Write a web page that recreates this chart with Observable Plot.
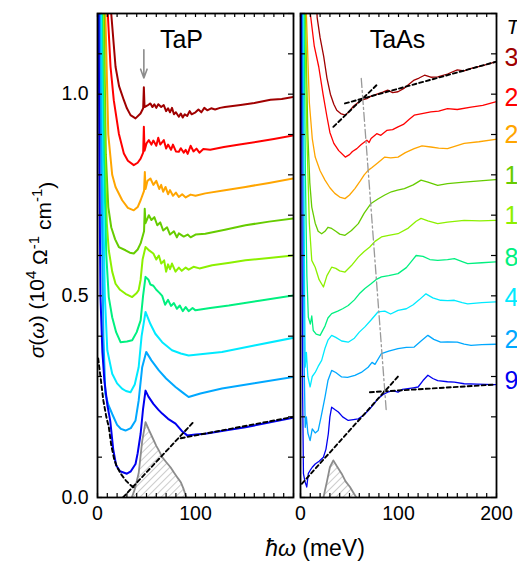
<!DOCTYPE html>
<html><head><meta charset="utf-8">
<script src="https://cdn.jsdelivr.net/npm/d3@7"></script>
<script src="https://cdn.jsdelivr.net/npm/@observablehq/plot@0.6"></script>
<style>body{margin:0;background:#fff;}</style>
</head><body><div id="chart"></div>
<script>
// ---------- data ----------
const panels = ["TaP", "TaAs"];
const temps = ["300", "250", "200", "150", "125", "80", "40", "20", "9"];
const colors = ["#a00000", "#ff0000", "#ffa500", "#66cc00", "#8cf000", "#00f080", "#00eaff", "#00a8ff", "#0000f0"];

// TaP  [meV, sigma]
const tap300 = [[11,1.35],[14,1.2],[18.4,1.068],[22,1.02],[26.9,0.985],[30,0.965],[33.7,0.948],[38.8,0.94],[43.9,0.952],[46.6,0.965],[47.3,1.017],[48,0.968],[51,0.972],[54,0.977],[56,0.968],[58,0.975],[60,0.966],[62,0.975],[65,0.968],[67.6,0.973],[70,0.958],[72,0.965],[74,0.955],[76,0.966],[78,0.95],[80,0.955],[83,0.944],[85,0.952],[87,0.942],[89,0.95],[91.5,0.946],[94,0.958],[96,0.95],[100,0.955],[103,0.962],[106,0.955],[109,0.966],[112,0.96],[116,0.965],[120,0.962],[125,0.966],[130,0.968],[146,0.973],[160,0.978],[176.5,0.986],[188,0.988],[200,0.993]];
const tap250 = [[8,1.4],[10.5,1.2],[13.3,1.068],[16.6,0.985],[21.8,0.902],[26.9,0.853],[31,0.835],[37,0.824],[41,0.83],[44,0.84],[46.6,0.855],[47.3,0.919],[48,0.86],[50,0.878],[52.4,0.886],[55,0.875],[57,0.885],[60,0.872],[62,0.892],[64,0.875],[67.7,0.886],[70,0.865],[72,0.875],[75,0.862],[77,0.875],[80,0.858],[83,0.857],[85,0.866],[88,0.855],[90,0.862],[92,0.852],[95,0.872],[98,0.858],[101,0.865],[104,0.855],[108,0.864],[115,0.862],[129,0.869],[145,0.875],[163,0.882],[180,0.889],[200,0.898]];
const tap200 = [[6,1.4],[8,1.2],[11,0.9],[15,0.8],[18.4,0.77],[25.2,0.737],[31,0.718],[37,0.712],[41,0.72],[44,0.737],[47.5,0.76],[48.3,0.807],[49,0.765],[51,0.785],[54,0.791],[57,0.775],[60,0.785],[63,0.765],[65,0.775],[67,0.758],[69.4,0.77],[72,0.752],[74,0.762],[77,0.748],[80,0.756],[83,0.745],[86.4,0.752],[90,0.744],[95,0.751],[100,0.748],[110,0.754],[130,0.762],[151,0.77],[175,0.78],[200,0.791]];
const tap150 = [[4.5,1.4],[6.5,1.2],[8.5,0.85],[11,0.72],[14,0.67],[18,0.64],[21.8,0.621],[28.6,0.613],[33,0.607],[37,0.605],[41,0.615],[44,0.63],[47.5,0.66],[48.2,0.716],[49,0.68],[52.4,0.70],[55,0.688],[58,0.695],[61,0.675],[64,0.682],[67,0.662],[71,0.67],[74,0.652],[78,0.66],[81,0.645],[83,0.655],[88,0.647],[92,0.652],[95,0.645],[100,0.652],[110,0.654],[130,0.664],[151,0.675],[175,0.684],[200,0.692]];
const tap125 = [[3.8,1.4],[5.5,1.2],[7.5,0.85],[9.5,0.68],[11.5,0.613],[15,0.56],[18.4,0.53],[23,0.515],[28.6,0.505],[35.4,0.497],[40,0.507],[42,0.514],[44,0.54],[46,0.59],[49,0.621],[53,0.612],[57,0.605],[60,0.59],[62.6,0.6],[65,0.58],[68,0.588],[70,0.56],[72,0.578],[74,0.566],[76,0.58],[79.6,0.56],[83,0.57],[86,0.562],[90,0.57],[93,0.565],[98,0.572],[104,0.568],[117,0.576],[135,0.582],[151,0.588],[175,0.594],[200,0.600]];
const tap80 = [[3,1.4],[4.5,1.2],[6.5,0.85],[9,0.6],[11.5,0.497],[15,0.447],[19,0.41],[23.5,0.385],[30,0.387],[35.4,0.39],[40,0.41],[44,0.439],[46.5,0.5],[49,0.547],[52,0.54],[54,0.528],[57,0.525],[60,0.515],[63,0.508],[66,0.5],[69,0.478],[72,0.49],[75,0.475],[78,0.482],[81,0.468],[84,0.476],[87,0.462],[90,0.472],[93,0.462],[97,0.47],[100,0.464],[115,0.47],[134,0.476],[165,0.488],[200,0.501]];
const tap40 = [[2.3,1.4],[3.5,1.2],[5,0.85],[7.5,0.5],[10,0.365],[15,0.307],[20,0.283],[25,0.27],[29,0.264],[33.7,0.261],[38,0.28],[42,0.323],[45,0.4],[49,0.46],[54,0.43],[59,0.406],[66,0.385],[76,0.365],[85,0.357],[93,0.352],[105,0.355],[127,0.361],[160,0.377],[200,0.396]];
const tap20 = [[1.6,1.4],[2.5,1.2],[4,0.8],[6,0.4],[8,0.257],[11,0.23],[15,0.207],[20,0.18],[24,0.17],[28.6,0.166],[34,0.172],[38.8,0.191],[42,0.24],[45.6,0.323],[49.7,0.361],[55,0.34],[62.6,0.315],[70,0.295],[79.6,0.274],[87,0.26],[93,0.249],[105,0.258],[127,0.27],[160,0.283],[200,0.299]];
const tap9 = [[0.6,1.4],[1.2,1.2],[2,0.8],[3,0.5],[5,0.36],[7,0.29],[10,0.23],[13,0.19],[16,0.12],[19,0.08],[23,0.065],[30,0.059],[34,0.065],[38.8,0.083],[41,0.11],[44,0.158],[46.5,0.22],[49,0.265],[52,0.25],[57,0.232],[62,0.218],[66,0.208],[72,0.195],[79.6,0.183],[86,0.165],[91.5,0.154],[100,0.156],[110,0.158],[130,0.166],[151,0.174],[175,0.186],[200,0.198]];

// TaAs [meV, sigma]
const taas300 = [[13,1.4],[17,1.19],[20,1.14],[23.7,1.093],[27,1.04],[30.5,1.0],[34,0.975],[37,0.96],[41,0.952],[45.7,0.948],[50,0.958],[54,0.97],[57.5,0.977],[62,0.985],[67.7,0.989],[72,0.995],[78,1.0],[84,1.005],[89,1.01],[94,1.004],[99.5,1.006],[106,1.015],[111,1.025],[116,1.035],[121,1.04],[126.6,1.047],[133,1.042],[140,1.043],[150,1.05],[160,1.06],[167,1.058],[174,1.064],[185,1.07],[199,1.08]];
const taas250 = [[7.5,1.4],[10,1.2],[14,1.12],[18.6,1.068],[23,1.0],[27,0.944],[30,0.905],[34,0.878],[39,0.86],[45.7,0.844],[50,0.85],[53,0.858],[57.5,0.865],[62,0.875],[67.7,0.886],[70,0.88],[72,0.89],[77.8,0.902],[82,0.898],[88,0.91],[94,0.912],[99.5,0.919],[105,0.925],[111,0.938],[116,0.948],[124,0.952],[133,0.956],[141,0.958],[150,0.964],[160,0.962],[174,0.968],[186,0.972],[199,0.981]];
const taas200 = [[4.5,1.4],[6,1.2],[9,0.98],[12,0.89],[15,0.844],[20,0.81],[25,0.787],[30,0.768],[35,0.754],[40,0.745],[45.4,0.741],[50,0.75],[55.5,0.766],[61,0.785],[65,0.8],[69,0.811],[73,0.818],[79,0.83],[86,0.844],[92,0.842],[99.5,0.844],[107,0.855],[116,0.865],[124,0.872],[133,0.869],[141,0.866],[150,0.865],[167,0.878],[182,0.882],[199,0.888]];
const taas150 = [[3.5,1.4],[5,1.2],[7.5,0.9],[9.5,0.78],[11.5,0.72],[15,0.68],[18,0.66],[21.6,0.654],[25,0.66],[28,0.67],[31.8,0.667],[36,0.66],[40,0.653],[45.4,0.65],[52,0.662],[59,0.679],[65,0.705],[72,0.729],[79,0.74],[86,0.75],[92.7,0.758],[99,0.762],[106,0.766],[115,0.775],[123,0.787],[130,0.782],[140,0.774],[150,0.778],[167,0.782],[183,0.785],[199,0.788]];
const taas125 = [[3,1.4],[4.3,1.2],[6.5,0.9],[9,0.68],[11.5,0.588],[15,0.571],[19,0.54],[23.4,0.522],[27,0.55],[31.8,0.571],[36,0.568],[40,0.562],[45.4,0.559],[52,0.575],[59,0.596],[65,0.61],[70.7,0.621],[76,0.635],[82.6,0.646],[90,0.65],[99.5,0.654],[110,0.668],[118,0.685],[123,0.692],[130,0.686],[140,0.679],[150,0.683],[167,0.687],[183,0.686],[199,0.687]];
const taas80 = [[2.5,1.4],[3.6,1.2],[5,0.8],[6.5,0.55],[8,0.447],[10,0.43],[11.5,0.45],[13,0.414],[16,0.405],[20,0.402],[25,0.425],[28,0.445],[31.8,0.456],[38,0.462],[43,0.468],[48.7,0.476],[55,0.49],[60,0.505],[65.7,0.518],[72,0.53],[77,0.54],[82.6,0.547],[90,0.55],[99.5,0.555],[108,0.57],[113,0.585],[118,0.60],[125,0.598],[132,0.59],[140,0.588],[150,0.59],[157,0.592],[165,0.585],[170.6,0.58],[185,0.582],[199,0.584]];
const taas40 = [[1.8,1.4],[2.6,1.2],[3.5,0.8],[4.2,0.5],[4.8,0.323],[6,0.36],[7.5,0.30],[9.8,0.274],[12,0.3],[15,0.31],[18,0.325],[21.6,0.34],[25,0.37],[28,0.39],[31.8,0.402],[36,0.397],[42,0.388],[48.7,0.385],[55,0.395],[60,0.41],[65.7,0.423],[72,0.44],[79,0.46],[86,0.462],[92,0.455],[99.5,0.464],[108,0.468],[115,0.478],[121,0.49],[128,0.505],[135,0.495],[143,0.489],[150,0.488],[157,0.489],[165,0.483],[170.6,0.48],[185,0.483],[199,0.485]];
const taas20 = [[1.2,1.4],[1.8,1.2],[2.8,0.7],[3.6,0.35],[4.8,0.174],[6,0.2],[7.5,0.16],[9.8,0.141],[12,0.17],[15,0.16],[18,0.166],[21,0.2],[25,0.249],[28,0.29],[31.8,0.315],[36,0.31],[42,0.299],[48,0.298],[55.5,0.303],[62,0.31],[69,0.323],[73,0.335],[76,0.33],[82.6,0.357],[90,0.363],[99.5,0.369],[108,0.372],[116,0.373],[123,0.388],[130,0.402],[136,0.392],[143,0.385],[150,0.386],[160,0.385],[167,0.38],[174,0.377],[185,0.379],[199,0.38]];
const taas9 = [[0.6,1.4],[1,1.2],[1.6,0.6],[2.2,0.25],[3,0.059],[4.5,0.04],[6.4,0.026],[8,0.06],[9.8,0.067],[12,0.075],[15,0.083],[19,0.09],[23.4,0.1],[26,0.12],[28.4,0.158],[30,0.2],[31.8,0.224],[35,0.218],[38.6,0.212],[43,0.2],[48.7,0.191],[54,0.193],[59,0.195],[65,0.205],[70.8,0.22],[75,0.232],[79,0.245],[84,0.255],[89,0.261],[94,0.265],[99.5,0.261],[104,0.268],[109.6,0.27],[115,0.272],[120,0.274],[125,0.29],[130,0.303],[135,0.295],[140,0.29],[150,0.287],[157,0.286],[167,0.282],[180,0.281],[199,0.28]];

// phonon peaks (hatched)
const tapPhonon = [[35,0],[38,0.02],[42,0.06],[45.6,0.14],[49,0.187],[52,0.17],[55.8,0.15],[60,0.128],[63,0.115],[66,0.1],[70,0.088],[74.5,0.075],[78,0.062],[82,0.048],[85,0.038],[88,0.02],[90,0.005],[91,0]];
const taasPhonon = [[23.4,0],[27,0.04],[30,0.075],[33.5,0.092],[37,0.078],[42,0.059],[46,0.04],[50.5,0.026],[54,0.012],[57,0]];

// fit lines (black dashed)
const tapDrudeFit = [[0.7,0.345],[3,0.3],[6,0.24],[9,0.2],[11.5,0.175],[14,0.13],[17,0.095],[20,0.075],[24,0.058],[29,0.042],[34,0.03],[39,0.022]];
const tapLinFit = [[26,0],[99,0.19]];
const tapTailFit = [[85,0.147],[200,0.2]];
const taasLin300 = [[33.5,0.919],[77.5,1.022]];
const taasTail300 = [[45.4,0.977],[199,1.08]];
const taasLin9 = [[1.3,0.034],[99.5,0.30]];
const taasTail9 = [[70.8,0.261],[199,0.28]];
const taasGuide = [[62,1.039],[87.6,0.212]];   // grey dash-dot
const tapArrow = [{x: 47.3, yFrom: 1.11, yTo: 1.04}];

// tick labels
const yTickValues = [0, 0.5, 1.0];
const xTicksTaP = [0, 100];
const xTicksTaAs = [0, 100, 200];
const legendTitle = ["T (K)"];

// ---------- build ----------
const tapSeries = [tap300, tap250, tap200, tap150, tap125, tap80, tap40, tap20, tap9];
const taasSeries = [taas300, taas250, taas200, taas150, taas125, taas80, taas40, taas20, taas9];
const rows = [];
temps.forEach((t, i) => {
  tapSeries[i].forEach(([x, y]) => rows.push({panel: "TaP", T: t, color: colors[i], x, y}));
  taasSeries[i].forEach(([x, y]) => rows.push({panel: "TaAs", T: t, color: colors[i], x, y}));
});
const tapRows = rows.filter(d => d.panel === "TaP");
const taasRows = rows.filter(d => d.panel === "TaAs");
const pts = (arr, panel, id) => arr.map(([x, y]) => ({panel, id, x, y}));
const dashed = [
  ...pts(tapDrudeFit, "TaP", "a"), ...pts(tapLinFit, "TaP", "b"), ...pts(tapTailFit, "TaP", "c"),
  ...pts(taasLin300, "TaAs", "d"), ...pts(taasTail300, "TaAs", "e"),
  ...pts(taasLin9, "TaAs", "f"), ...pts(taasTail9, "TaAs", "g")
];
const phonons = [...pts(tapPhonon, "TaP", "p"), ...pts(taasPhonon, "TaAs", "q")];

const FONT = "Liberation Sans, Arial, Helvetica, sans-serif";
const px = d => d.x, py = d => d.y;

const chart = Plot.plot({
  width: 517, height: 563,
  marginLeft: 97, marginRight: 20, marginTop: 13, marginBottom: 66,
  x: {domain: [0, 200], axis: null},
  y: {domain: [0, 1.2], axis: null},
  fx: {domain: panels, paddingInner: 0.034, paddingOuter: 0, axis: null, label: null},
  color: {type: "identity"},
  style: {fontFamily: FONT, fontSize: "19.5px", background: "white", color: "black", overflow: "visible"},
  marks: [
    Plot.areaY(phonons, {fx: "panel", x: px, y: py, z: "id", fill: "url(#hatch)", clip: true}),
    Plot.line(phonons, {fx: "panel", x: px, y: py, z: "id", stroke: "#8c8c8c", strokeWidth: 1.8, clip: true}),
    Plot.line(tapRows, {fx: "panel", x: px, y: py, z: "T", stroke: "color", strokeWidth: 2, clip: true}),
    Plot.line(taasRows, {fx: "panel", x: px, y: py, z: "T", stroke: "color", strokeWidth: 1.3, clip: true}),
    Plot.line(dashed, {fx: "panel", x: px, y: py, z: "id", stroke: "black", strokeWidth: 1.9, strokeDasharray: "4,3", clip: true}),
    Plot.line(pts(taasGuide, "TaAs", "h"), {fx: "panel", x: px, y: py, stroke: "#999", strokeWidth: 1.3, strokeDasharray: "9,3,2,3"}),
    Plot.arrow(tapArrow, {fx: () => "TaP", x1: "x", x2: "x", y1: "yFrom", y2: "yTo", stroke: "#8c8c8c", strokeWidth: 1.6, headLength: 10, headAngle: 40}),
    // inward minor ticks
    Plot.tickX(d3.range(0, 201, 10), {x: d => d, insetTop: 480, stroke: "black", strokeWidth: 1.2}),
    Plot.tickX(d3.range(0, 201, 10), {x: d => d, insetBottom: 480, stroke: "black", strokeWidth: 1.2}),
    Plot.tickY(d3.range(0, 1.21, 0.1), {y: d => d, insetRight: 191, stroke: "black", strokeWidth: 1.2}),
    Plot.tickY(d3.range(0, 1.21, 0.1), {y: d => d, insetLeft: 191, stroke: "black", strokeWidth: 1.2}),
    Plot.frame({stroke: "black", strokeWidth: 1.8}),
    // tick labels
    Plot.text(yTickValues, {fx: () => "TaP", y: d => d, text: d => d.toFixed(1), frameAnchor: "left", dx: -9, textAnchor: "end", fontSize: 19.5}),
    Plot.text(xTicksTaP, {fx: () => "TaP", x: d => d, text: d => String(d), frameAnchor: "bottom", dy: 22, fontSize: 19.5}),
    Plot.text(xTicksTaAs, {fx: () => "TaAs", x: d => d, text: d => String(d), frameAnchor: "bottom", dy: 22, fontSize: 19.5}),
    // panel titles
    Plot.text(["TaP"], {fx: d => d, text: d => d, frameAnchor: "top", dx: -14, dy: 17, lineAnchor: "top", fontSize: 25}),
    Plot.text(["TaAs"], {fx: d => d, text: d => d, frameAnchor: "top", dx: -1, dy: 17, lineAnchor: "top", fontSize: 25}),
    // temperature labels at the end of each TaAs curve
    Plot.text(taasRows, Plot.selectLast({fx: "panel", x: px, y: py, z: "T", text: "T", fill: "color", dx: 9, dy: -4, textAnchor: "start", fontSize: 25})),
    Plot.text(legendTitle, {fx: () => "TaAs", x: () => 200, text: d => d, frameAnchor: "top", dx: 10, dy: 14, textAnchor: "start", lineAnchor: "middle", fontStyle: "italic", fontSize: 21})
  ]
});

const svg = d3.select(chart);
const defs = svg.insert("defs", ":first-child");
const pat = defs.append("pattern").attr("id", "hatch").attr("patternUnits", "userSpaceOnUse")
  .attr("width", 5).attr("height", 5).attr("patternTransform", "rotate(45)");
pat.append("line").attr("x1", 0).attr("y1", 0).attr("x2", 0).attr("y2", 5)
  .attr("stroke", "#9a9a9a").attr("stroke-width", 1);

// y-axis title
const yl = svg.append("text").attr("transform", "translate(44,270) rotate(-90)")
  .attr("text-anchor", "middle").attr("fill", "black")
  .style("font-family", FONT).style("font-size", "21px");
yl.append("tspan").style("font-style", "italic").text("σ");
yl.append("tspan").text("(");
yl.append("tspan").style("font-style", "italic").text("ω");
yl.append("tspan").text(") (10");
yl.append("tspan").attr("dy", "-0.55em").style("font-size", "15px").text("4");
yl.append("tspan").attr("dy", "0.55em").text(" Ω");
yl.append("tspan").attr("dy", "-0.55em").style("font-size", "15px").text("-1");
yl.append("tspan").attr("dy", "0.55em").text(" cm");
yl.append("tspan").attr("dy", "-0.55em").style("font-size", "15px").text("-1");
yl.append("tspan").attr("dy", "0.55em").text(")");

// x-axis title
const xl = svg.append("text").attr("x", 315).attr("y", 556)
  .attr("text-anchor", "middle").attr("fill", "black")
  .style("font-family", FONT).style("font-size", "23px");
xl.append("tspan").style("font-style", "italic").text("ħω");
xl.append("tspan").text(" (meV)");

document.getElementById("chart").appendChild(chart);
</script>
</body></html>
